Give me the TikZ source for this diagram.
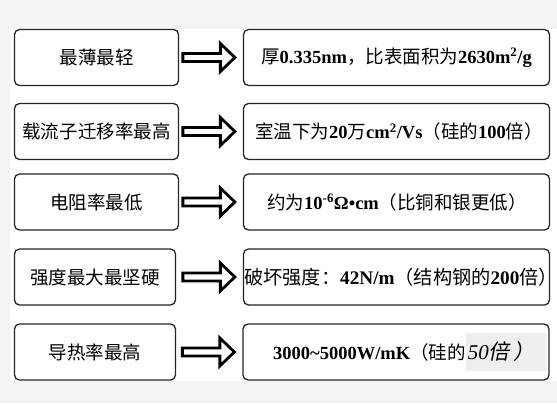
\documentclass[tikz,border=0pt]{standalone}
\usepackage{fontspec}
\setmainfont{Liberation Serif}
\newfontfamily\cjk{Noto Sans CJK SC}
\newfontfamily\cjkit[FakeSlant=0.2]{Noto Sans CJK SC}
\usetikzlibrary{calc}
\definecolor{pagegrey}{HTML}{F4F4F4}
\definecolor{hlgrey}{HTML}{EEEEEE}
\tikzset{
  box/.style={draw=black!85, line width=1.3bp, rounded corners=5bp, minimum height=56bp, inner sep=0pt},
  lbox/.style={box, font=\fontsize{18.5bp}{20bp}\cjk},
  rbox/.style={box, minimum width=306bp},
  rtext/.style={anchor=west, inner sep=0pt, font=\fontsize{18.5bp}{20bp}\selectfont},
  harrow/.style={draw=black, line width=2.8bp, line join=miter, fill=white}
}
\newcommand\hollowarrow[1]{%
  \draw[harrow] ($(#1.west)+(-60,-4)$) -- ++(37.5,0) -- ++(0,-10) -- ++(14.5,14)
    -- ++(-14.5,14) -- ++(0,-10) -- ++(-37.5,0) -- cycle;}
\begin{document}
\begin{tikzpicture}[x=1bp,y=-1bp]
\useasboundingbox (0,0) rectangle (557,403);
\fill[pagegrey] (0,0) rectangle (557,403);
\fill[white] (10,29) rectangle (557,381);
% left boxes
\node[lbox, minimum width=164bp] (l1) at (96.5,57.5) {最薄最轻};
\node[lbox, minimum width=164bp] (l2) at (96.5,131.5) {载流子迁移率最高};
\node[lbox, minimum width=164bp] (l3) at (96.5,202) {电阻率最低};
\node[lbox, minimum width=161bp] (l4) at (95,277) {强度最大最坚硬};
\node[lbox, minimum width=161bp] (l5) at (95,352) {导热率最高};
% right boxes
\node[rbox] (r1) at (396.5,57.5) {};
\node[rbox] (r2) at (396.5,131.5) {};
\node[rbox] (r3) at (396.5,202) {};
\node[rbox] (r4) at (396.5,277) {};
\node[rbox] (r5) at (396,352) {};
% arrows
\hollowarrow{r1}
\hollowarrow{r2}
\hollowarrow{r3}
\hollowarrow{r4}
\hollowarrow{r5}
% right texts
\node[rtext] (t1) at (261,57.5) {{\cjk 厚}\textbf{0.335nm}{\cjk ，比表面积为}\textbf{2630m\textsuperscript{2}/g}};
\node[rtext] (t2) at (255,131.5) {{\cjk 室温下为}\textbf{20}{\cjk 万}\textbf{cm\textsuperscript{2}/Vs}{\cjk （硅的}\textbf{100}{\cjk 倍）}};
\node[rtext] (t3) at (267,202) {{\cjk 约为}\textbf{10\textsuperscript{-6}Ω•cm}{\cjk （比铜和银更低）}};
\node[rtext, font=\fontsize{19.2bp}{20bp}\selectfont] (t4) at (244,277) {{\cjk 破坏强度：}\textbf{42N/m}{\cjk （结构钢的}\textbf{200}{\cjk 倍）}};
\node[rtext] (t5) at (273,352) {\textbf{3000\textasciitilde5000W/mK}{\cjk （硅的}{\setlength\fboxsep{0pt}\colorbox{hlgrey}{\rule[-12bp]{0pt}{38bp}\hspace{2bp}{\fontsize{21bp}{22bp}\selectfont\textit{50}\cjkit 倍\,）}\hspace{12bp}}}};
\end{tikzpicture}
\end{document}
